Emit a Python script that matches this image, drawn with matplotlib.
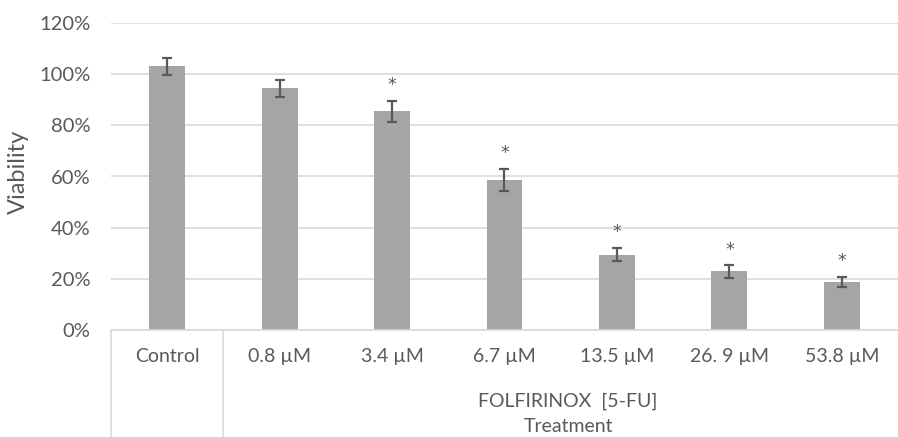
import matplotlib
matplotlib.use("Agg")
import matplotlib.pyplot as plt
import matplotlib.ticker as mticker
import matplotlib.transforms as mtransforms
import numpy as np

# data
categories = ["Control", "0.8 µM", "3.4 µM", "6.7 µM", "13.5 µM", "26. 9 µM", "53.8 µM"]
viability = [1.03, 0.944, 0.855, 0.588, 0.295, 0.229, 0.188]
errors = [0.033, 0.033, 0.041, 0.043, 0.027, 0.025, 0.021]
significant = [False, False, True, True, True, True, True]

BAR_COLOR = "#a5a5a5"
TEXT_COLOR = "#595959"
GRID_COLOR = "#d9d9d9"
ERR_COLOR = "#595959"

plt.rcParams["font.family"] = ["Lato", "DejaVu Sans"]

fig = plt.figure(figsize=(8.98, 4.37), dpi=100)
ax = fig.add_axes([111 / 898, 107 / 437, 787 / 898, 307 / 437])

x = np.arange(len(categories))
ax.bar(x, viability, width=0.32, color=BAR_COLOR, zorder=2)
ax.errorbar(x, viability, yerr=errors, fmt="none", ecolor=ERR_COLOR,
            elinewidth=1.6, capsize=3.5, capthick=1.6, zorder=3)

for xi, v, e, sig in zip(x, viability, errors, significant):
    if sig:
        ax.annotate("*", xy=(xi, v + e), xytext=(0, 11), textcoords="offset points",
                    ha="center", va="center", fontsize=12.5, color=TEXT_COLOR,
                    family="DejaVu Sans")

ax.set_xlim(-0.5, len(categories) - 0.5)
ax.set_ylim(0, 1.2)
ax.yaxis.set_major_locator(mticker.MultipleLocator(0.2))
ax.yaxis.set_major_formatter(mticker.PercentFormatter(1.0, decimals=0))
ax.grid(axis="y", color=GRID_COLOR, linewidth=1.2, zorder=0)
ax.set_axisbelow(True)

for side in ["top", "right", "left"]:
    ax.spines[side].set_visible(False)
ax.spines["bottom"].set_color(GRID_COLOR)
ax.spines["bottom"].set_linewidth(1.2)

ax.set_xticks(x)
ax.set_xticklabels(categories)
ax.tick_params(axis="x", length=0, pad=13, labelsize=14, labelcolor=TEXT_COLOR)
ax.tick_params(axis="y", length=0, pad=15, labelsize=14.5, labelcolor=TEXT_COLOR)

ax.set_ylabel("Viability", fontsize=17, color=TEXT_COLOR)
ax.yaxis.set_label_coords(-0.104, 0.515)

# category group dividers below the axis
trans = mtransforms.blended_transform_factory(ax.transData, fig.transFigure)
for xd in [-0.5, 0.5]:
    ax.plot([xd, xd], [0, 107 / 437], transform=trans, color=GRID_COLOR,
            linewidth=1.2, clip_on=False)

fig.text(568 / 898, 1 - 401 / 437, "FOLFIRINOX  [5-FU]", ha="center", va="center",
         fontsize=14, color=TEXT_COLOR)
fig.text(568 / 898, 1 - 426 / 437, "Treatment", ha="center", va="center",
         fontsize=14, color=TEXT_COLOR)

fig.savefig("out.png", dpi=100, facecolor="white")
